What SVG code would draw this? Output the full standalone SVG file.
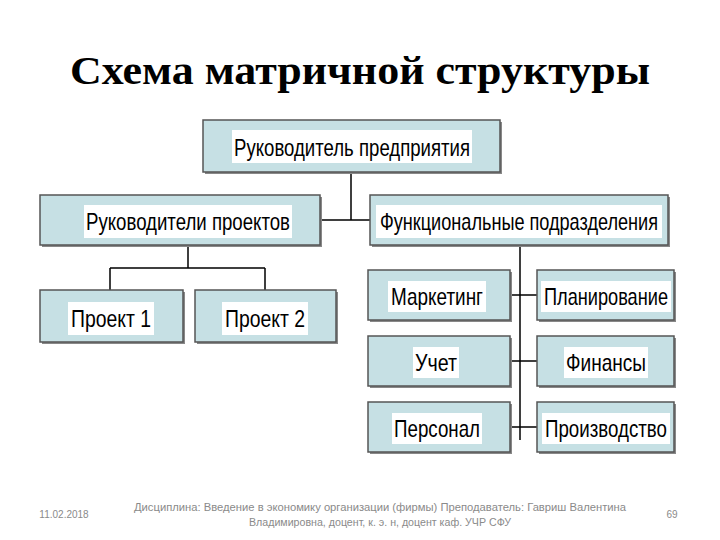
<svg xmlns="http://www.w3.org/2000/svg" width="720" height="540" viewBox="0 0 720 540">
<style>
.box{fill:#c6e0e4;stroke:#555;stroke-width:1.5}
.sh{fill:#888}
.pan{fill:#fff}
.t{font-family:"Liberation Sans",Arial,sans-serif;font-size:24px;fill:#000;text-anchor:middle}
.c{stroke:#000;stroke-width:1.5;fill:none}
.f{font-family:"Liberation Sans",Arial,sans-serif;font-size:10px;fill:#8a8a8a;text-anchor:middle}
</style>
<rect width="720" height="540" fill="#fff"/>
<text x="360" y="84" font-family="Liberation Serif,serif" font-weight="bold" font-size="40" text-anchor="middle" fill="#000" textLength="580" lengthAdjust="spacingAndGlyphs">Схема матричной структуры</text>
<g id="connectors">
<path class="c" d="M351 172V220M320 220H370M188 245V268M110 268H265M110 268V290M265 268V290M520 245V440M510 295H537M510 361H537M510 427H537"/>
</g>
<g id="top"><rect class="sh" x="205" y="122" width="297" height="52"/><rect class="box" x="203" y="120" width="297" height="52"/><rect class="pan" x="232" y="130" width="240" height="33"/><text class="t" x="352" y="156" textLength="236" lengthAdjust="spacingAndGlyphs">Руководитель предприятия</text></g>
<g id="rp"><rect class="sh" x="42" y="197" width="280" height="50"/><rect class="box" x="40" y="195" width="280" height="50"/><rect class="pan" x="84" y="205" width="208" height="33"/><text class="t" x="188" y="230" textLength="204" lengthAdjust="spacingAndGlyphs">Руководители проектов</text></g>
<g id="fp"><rect class="sh" x="372" y="197" width="298" height="50"/><rect class="box" x="370" y="195" width="298" height="50"/><rect class="pan" x="376" y="205" width="286" height="33"/><text class="t" x="519" y="230" textLength="278" lengthAdjust="spacingAndGlyphs">Функциональные подразделения</text></g>
<g id="p1"><rect class="sh" x="42" y="292" width="143" height="52"/><rect class="box" x="40" y="290" width="143" height="52"/><rect class="pan" x="68" y="302" width="86" height="33"/><text class="t" x="111" y="327" textLength="80" lengthAdjust="spacingAndGlyphs">Проект 1</text></g>
<g id="p2"><rect class="sh" x="197" y="292" width="141" height="52"/><rect class="box" x="195" y="290" width="141" height="52"/><rect class="pan" x="222" y="302" width="86" height="33"/><text class="t" x="265" y="327" textLength="80" lengthAdjust="spacingAndGlyphs">Проект 2</text></g>
<g id="m"><rect class="sh" x="370" y="272" width="142" height="50"/><rect class="box" x="368" y="270" width="142" height="50"/><rect class="pan" x="388" y="281" width="98" height="31"/><text class="t" x="437" y="305" textLength="92" lengthAdjust="spacingAndGlyphs">Маркетинг</text></g>
<g id="pl"><rect class="sh" x="539" y="272" width="137" height="50"/><rect class="box" x="537" y="270" width="137" height="50"/><rect class="pan" x="541" y="281" width="130" height="31"/><text class="t" x="606" y="305" textLength="124" lengthAdjust="spacingAndGlyphs">Планирование</text></g>
<g id="u"><rect class="sh" x="370" y="338" width="142" height="50"/><rect class="box" x="368" y="336" width="142" height="50"/><rect class="pan" x="413" y="347" width="46" height="31"/><text class="t" x="436" y="371" textLength="42" lengthAdjust="spacingAndGlyphs">Учет</text></g>
<g id="fi"><rect class="sh" x="539" y="338" width="137" height="50"/><rect class="box" x="537" y="336" width="137" height="50"/><rect class="pan" x="564" y="347" width="84" height="31"/><text class="t" x="606" y="371" textLength="80" lengthAdjust="spacingAndGlyphs">Финансы</text></g>
<g id="pe"><rect class="sh" x="370" y="404" width="142" height="50"/><rect class="box" x="368" y="402" width="142" height="50"/><rect class="pan" x="392" y="413" width="90" height="31"/><text class="t" x="437" y="437" textLength="86" lengthAdjust="spacingAndGlyphs">Персонал</text></g>
<g id="pr"><rect class="sh" x="539" y="404" width="137" height="50"/><rect class="box" x="537" y="402" width="137" height="50"/><rect class="pan" x="542" y="413" width="128" height="31"/><text class="t" x="606" y="437" textLength="122" lengthAdjust="spacingAndGlyphs">Производство</text></g>
<text class="f" x="64" y="518">11.02.2018</text>
<text class="f" x="380" y="511" textLength="492" lengthAdjust="spacingAndGlyphs">Дисциплина: Введение в экономику  организации (фирмы)   Преподаватель: Гавриш Валентина</text>
<text class="f" x="380" y="526" textLength="262" lengthAdjust="spacingAndGlyphs">Владимировна, доцент, к. э. н, доцент каф. УЧР СФУ</text>
<text class="f" x="672" y="518">69</text>
</svg>
